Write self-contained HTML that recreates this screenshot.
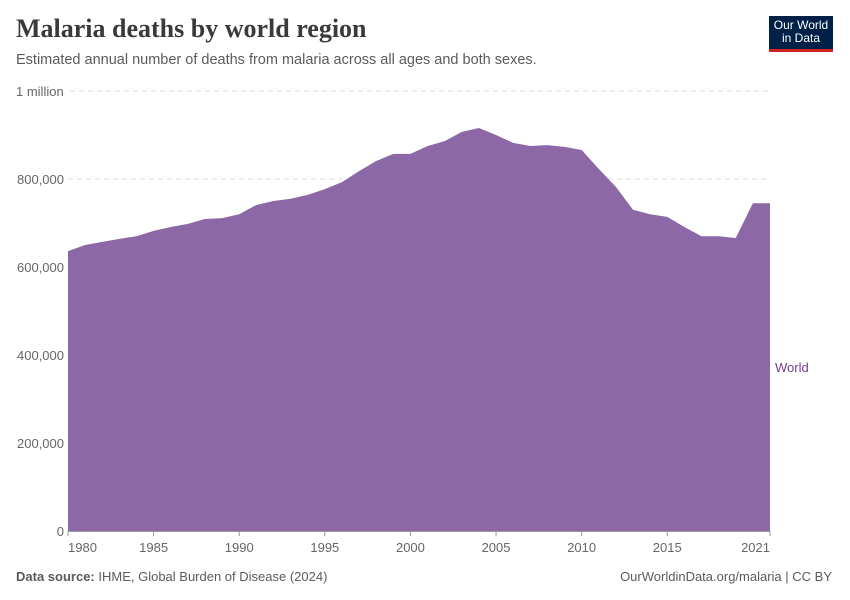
<!DOCTYPE html>
<html><head><meta charset="utf-8"><style>
body{margin:0;background:#fff;font-family:"Liberation Sans",sans-serif}
#wrap{position:relative;width:850px;height:600px;overflow:hidden}
.t{position:absolute;white-space:nowrap}
</style></head><body>
<div id="wrap">
<div class="t" style="left:16px;top:14px;font-family:'Liberation Serif',serif;font-size:26px;color:#3a3a3a;font-weight:bold">Malaria deaths by world region</div>
<div class="t" style="left:16px;top:52px;font-size:14.5px;color:#5b5b5b">Estimated annual number of deaths from malaria across all ages and both sexes.</div>
<div style="position:absolute;left:769px;top:16px;width:64px;height:36px;background:#002147;border-bottom:3px solid #ce261e;color:#fff;font-size:12px;line-height:13px;text-align:center;padding-top:3px;box-sizing:border-box">Our World<br>in Data</div>
<svg id="chart" width="850" height="600" style="position:absolute;left:0;top:0"></svg>
<div class="t" style="left:16px;top:569px;font-size:13px;color:#5b5b5b"><b>Data source:</b> IHME, Global Burden of Disease (2024)</div>
<div class="t" style="right:18px;top:569px;font-size:13px;color:#5b5b5b">OurWorldinData.org/malaria | CC BY</div>
</div>
<script>
const years=[1980,1981,1982,1983,1984,1985,1986,1987,1988,1989,1990,1991,1992,1993,1994,1995,1996,1997,1998,1999,2000,2001,2002,2003,2004,2005,2006,2007,2008,2009,2010,2011,2012,2013,2014,2015,2016,2017,2018,2019,2020,2021];
const deaths=[636000,650000,657000,664000,670000,682000,691000,698000,709000,711000,720000,741000,750000,755000,764000,777000,793000,818000,841000,857000,857000,875000,886000,907000,916000,900000,882000,875000,877000,873000,866000,823000,782000,730000,720000,714000,691000,670000,670000,666000,745000,745000];
const yTicks=[0,200000,400000,600000,800000,1000000];
const yTickLabels=["0","200,000","400,000","600,000","800,000","1 million"];
const xTicks=[1980,1985,1990,1995,2000,2005,2010,2015,2021];
const NS="http://www.w3.org/2000/svg";
const svg=document.getElementById('chart');
const x=v=>68+(v-1980)*(702/41);
const y=v=>531-v/1000000*440;
function mk(t,a){const e=document.createElementNS(NS,t);for(const k in a)e.setAttribute(k,a[k]);svg.appendChild(e);return e;}
yTicks.forEach((v,i)=>{
 if(v>0){const l=mk('line',{x1:v===1000000?70:68,x2:770,y1:y(v),y2:y(v),stroke:'#ddd','stroke-dasharray':'5,4'});
 
 }
 const t=mk('text',{x:64,y:y(v)+5,'font-size':13,fill:'#666','text-anchor':'end','font-family':'Liberation Sans'});
 if(v===1000000){t.setAttribute('x',16);t.setAttribute('text-anchor','start');}
 t.textContent=yTickLabels[i];
 
 
});
let d='M'+x(years[0])+','+y(0);
years.forEach((yr,i)=>{d+=' L'+x(yr)+','+y(deaths[i]);});
d+=' L'+x(years[years.length-1])+','+y(0)+' Z';
const area=mk('path',{d:d,fill:'#8c68a7'});


const ax=mk('line',{x1:68,x2:770,y1:531.5,y2:531.5,stroke:'#999'});


xTicks.forEach((v,i)=>{
 const tk=mk('line',{x1:x(v),x2:x(v),y1:531,y2:536,stroke:'#999'});
 
 
 const t=mk('text',{x:x(v),y:552,'font-size':13,fill:'#666','text-anchor':i===0?'start':(i===xTicks.length-1?'end':'middle'),'font-family':'Liberation Sans'});
 t.textContent=v;
 
 
});
const lab=mk('text',{x:775,y:372,'font-size':13,fill:'#6d3e91','font-family':'Liberation Sans'});
lab.textContent='World';


</script>
</body></html>
